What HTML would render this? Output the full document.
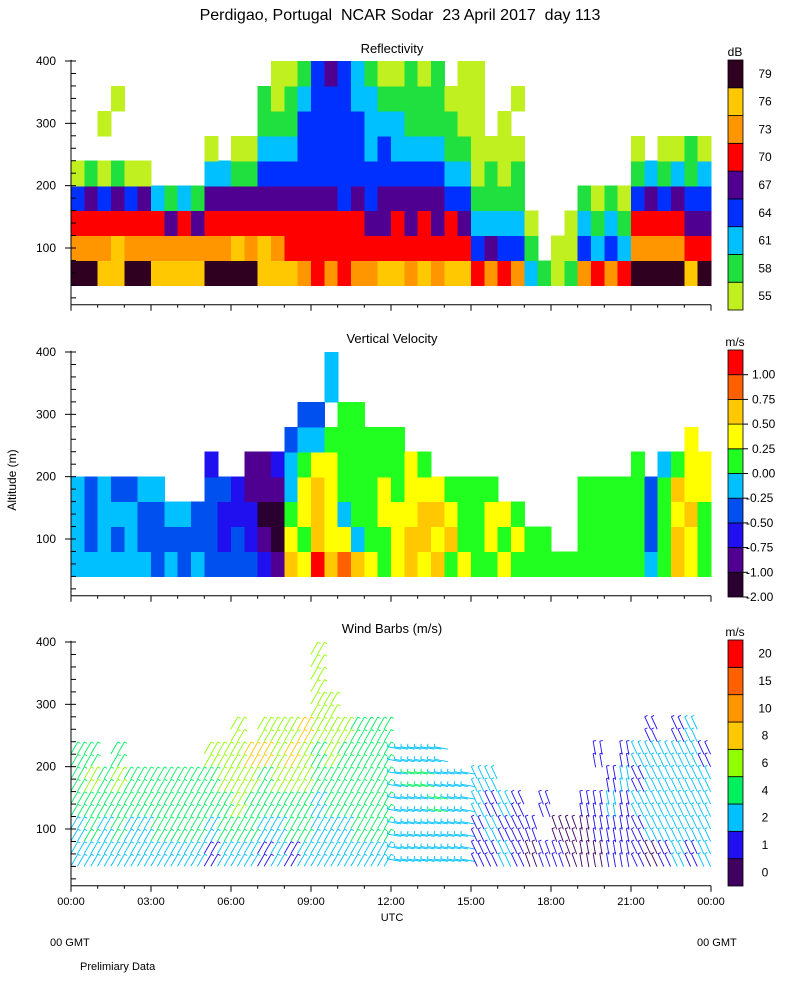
<!DOCTYPE html>
<html><head><meta charset="utf-8"><style>
body{margin:0;background:#fff}
svg text{font-family:"Liberation Sans","DejaVu Sans",sans-serif;font-size:12px;fill:#000;white-space:pre}
</style></head><body>
<svg id="c" width="800" height="1000" viewBox="0 0 800 1000" xmlns="http://www.w3.org/2000/svg">
<text x="400" y="20" text-anchor="middle" style="font-size:16px">Perdigao, Portugal  NCAR Sodar  23 April 2017  day 113</text>
<text x="392" y="53" text-anchor="middle" style="font-size:13px">Reflectivity</text>
<text x="392" y="343" text-anchor="middle" style="font-size:13px">Vertical Velocity</text>
<text x="392" y="633" text-anchor="middle" style="font-size:13px">Wind Barbs (m/s)</text>
<text x="16" y="480" text-anchor="middle" transform="rotate(-90 16 480)">Altitude (m)</text>
<text x="392" y="921" text-anchor="middle" style="font-size:11px">UTC</text>
<text x="50" y="946" style="font-size:11px">00 GMT</text>
<text x="697" y="946" style="font-size:11px">00 GMT</text>
<text x="80" y="970" style="font-size:11px">Prelimiary Data</text>
<g id="g"></g>
</svg>
<script>
// ---- data ----
const timeLabels=["00:00","03:00","06:00","09:00","12:00","15:00","18:00","21:00","00:00"];
const altTicks=[100,200,300,400];
const reflLabels=["55","58","61","64","67","70","73","76","79"];
const vvLabels=["-2.00","-1.00","-0.75","-0.50","-0.25","0.00","0.25","0.50","0.75","1.00"];
const windLabels=["0","1","2","4","6","8","10","15","20"];
// grids: rows bottom (40-80 m) to top (360-400 m), 48 half-hour columns, digit = colour level
const reflGrid=[
"887788"+"7777"+"8888"+"77"+"76565667"+"767677"+"5656"+"2101"+"6565"+"888878",
"666766"+"6666"+"6676"+"76"+"55555555"+"555555"+"3433"+"1.00"+"3232"+"666655",
"555555"+"5454"+"5555"+"55"+"55555544"+"545454"+"2222"+"0..0"+"2121"+"555544",
"343434"+"2121"+"4444"+"44"+"44443434"+"444433"+"1111"+"...."+"1010"+"343433",
"010100"+"...."+"2211"+"33"+"33333333"+"333322"+"0101"+"...."+"...."+"121212",
"......"+"...."+"0.00"+"22"+"23333323"+"222211"+"0000"+"...."+"...."+"0.0010",
"..0..."+"...."+"...."+"11"+"13333322"+"211110"+"0.0."+"...."+"...."+"......",
"...0.."+"...."+"...."+"10"+"12333221"+"111100"+"0..0"+"...."+"...."+"......",
"......"+"...."+"...."+".0"+"01343210"+"0101.0"+"0..."+"...."+"...."+"......"];
const vvGrid=[
"444444"+"3434"+"3333"+"21"+"76978765"+"676756"+"5565"+"5555"+"5555"+"545765",
"434343"+"3333"+"3232"+"10"+"65766455"+"677675"+"5656"+"55.."+"5555"+"535765",
"434443"+"3443"+"3222"+"00"+"56764556"+"667765"+"5665"+"...."+"5555"+"535675",
"434334"+"4..."+"3321"+"11"+"46765556"+"566655"+"55.."+"...."+"5555"+"535766",
"......"+"...."+"2..1"+"12"+"45665555"+"565..."+"...."+"...."+"...."+"5.4566",
"......"+"...."+"...."+".."+"34455555"+"5....."+"...."+"...."+"...."+"....6.",
"......"+"...."+"...."+".."+".33.55.."+"......"+"...."+"...."+"...."+"......",
"......"+"...."+"...."+".."+"...4...."+"......"+"...."+"...."+"...."+"......",
"......"+"...."+"...."+".."+"...4...."+"......"+"...."+"...."+"...."+"......"];
const windGrid=[
"222222"+"2222"+"1222"+"1212"+"222222"+"222222"+"1121"+"0110"+"0011"+"101212",
"232322"+"3333"+"2333"+"2233"+"222333"+"222222"+"1211"+"1.00"+"0111"+"122222",
"333333"+"3333"+"3343"+"3333"+"233333"+"222322"+"2121"+".1.."+"1121"+"222222",
"343433"+"3333"+"3444"+"3444"+"333333"+"233222"+"22.."+"...."+"..12"+"122222",
"33.3.."+"...."+"4445"+"5454"+"343333"+"2222.."+"...."+"...."+".1.1"+"222221",
"......"+"...."+"..4."+"4445"+"444333"+"......"+"...."+"...."+"...."+".1.12.",
"......"+"...."+"...."+"...."+"44...."+"......"+"...."+"...."+"...."+"......",
"......"+"...."+"...."+"...."+"4....."+"......"+"...."+"...."+"...."+"......",
"......"+"...."+"...."+"...."+"4....."+"......"+"...."+"...."+"...."+"......"];
const windDir=[60,60,60,60,60,60,60,60,60,60,60,60,60,60,60,60,60,60,60,60,60,60,60,60,170,170,170,170,170,170,115,115,115,115,110,110,110,110,100,100,100,100,115,115,115,115,115,115];
// ---- styling ----
const reflCol=["#c0f020","#20e040","#00c0ff","#0030ff","#500090","#ff0000","#ff9600","#ffc800","#300020"];
const vvCol=["#2a0030","#500090","#2010f0","#0050f0","#00c0ff","#20ff20","#ffff00","#ffc800","#ff6000","#ff0000"];
const windCol=["#400060","#2010f0","#00c0ff","#00f060","#90ff00","#ffc800","#ff9600","#ff6000","#ff0000"];
const NS="http://www.w3.org/2000/svg";
const g=document.getElementById('g');
const X0=71,X1=711,PX=0.6233;
const xs=h=>X0+h/24*(X1-X0);
const ys=(top,a)=>top+(400-a)*PX;
function el(t,a,p){const e=document.createElementNS(NS,t);for(const k in a)e.setAttribute(k,a[k]);(p||g).appendChild(e);return e;}
const tops=[61,352,642];
function heat(top,grid,cols,name){
  const grp=el('g',{'shape-rendering':'crispEdges'});
  grid.forEach((row,r)=>{for(let c=0;c<row.length;c++){const ch=row[c];if(ch==='.')continue;
    const a0=40+r*40,x=xs(c*0.5),y=ys(top,a0+40);
    const rc=el('rect',{x:x,y:y,width:xs((c+1)*0.5)-x+0.6,height:ys(top,a0)-y+0.6,fill:cols[+ch]},grp);
    
    }});
}
heat(tops[0],reflGrid,reflCol,'reflectivity');
heat(tops[1],vvGrid,vvCol,'velocity');
// wind barbs (2x2 per grid cell)
windGrid.forEach((row,r)=>{for(let c=0;c<row.length;c++){const ch=row[c];if(ch==='.')continue;
  for(let k=0;k<2;k++)for(let j=0;j<2;j++){const alt=50+r*40+k*20;const cx=xs(c*0.5+j/4+1/8),cy=ys(tops[2],alt);
    const ang=windDir[c]*Math.PI/180,L=7;
    const dx=Math.cos(ang)*L,dy=-Math.sin(ang)*L;
    const b=el('g',{stroke:windCol[+ch],'stroke-width':0.9,fill:'none'});
    
    
    el('line',{x1:cx-dx,y1:cy-dy,x2:cx+dx,y2:cy+dy},b);
    el('line',{x1:cx+dx,y1:cy+dy,x2:cx+dx+Math.sin(ang)*3,y2:cy+dy+Math.cos(ang)*3},b);
  }}});
// axes
tops.forEach((top,i)=>{
  const bot=ys(top,9);
  const ax=el('g',{stroke:'#000','stroke-width':1,fill:'none'});
  
  
  el('line',{x1:X0,y1:ys(top,402),x2:X0,y2:bot},ax);
  el('line',{x1:X0,y1:bot,x2:X1,y2:bot},ax);
  for(let a=20;a<=400;a+=20){const y=ys(top,a);el('line',{x1:X0,y1:y,x2:X0+5,y2:y},ax);if(a%100===0)el('line',{x1:X0-6,y1:y,x2:X0,y2:y},ax);}
  for(let h=0;h<=24;h++){const x=xs(h);el('line',{x1:x,y1:bot,x2:x,y2:bot+(h%3?3:6)},ax);}
  altTicks.forEach(a=>{const t=el('text',{x:56,y:ys(top,a)+4,'text-anchor':'end'});t.textContent=a;
    
    });
});
timeLabels.forEach((l,i)=>{const t=el('text',{x:xs(i*3),y:905,'text-anchor':'middle','style':'font-size:11px'});t.textContent=l;
  
  });
// colorbars
function cbar(top,bot,cols,labels,unit,edge,name){
  const n=cols.length,h=(bot-top)/n;
  const u=el('text',{x:735,y:top-4,'text-anchor':'middle'});u.textContent=unit;
  
  
  for(let i=0;i<n;i++){const y=bot-(i+1)*h;
    const r=el('rect',{x:728,y:y,width:15,height:h,fill:cols[i],stroke:'#000','stroke-width':0.8});
    
    }
  labels.forEach((l,i)=>{let y;
    if(edge){y=bot-i*h;el('line',{x1:743,y1:y,x2:748,y2:y,stroke:'#000'});}
    else y=bot-(i+0.5)*h;
    const t=el('text',{x:edge?(l[0]==='-'?746:752):765,y:y+4,'text-anchor':edge?'start':'middle'});t.textContent=l;
    
    });
}
cbar(60,310,reflCol,reflLabels,'dB',false,'reflectivity-colorbar');
cbar(350,597,vvCol,vvLabels,'m/s',true,'velocity-colorbar');
cbar(640,886,windCol,windLabels,'m/s',false,'wind-colorbar');
</script>
</body></html>
